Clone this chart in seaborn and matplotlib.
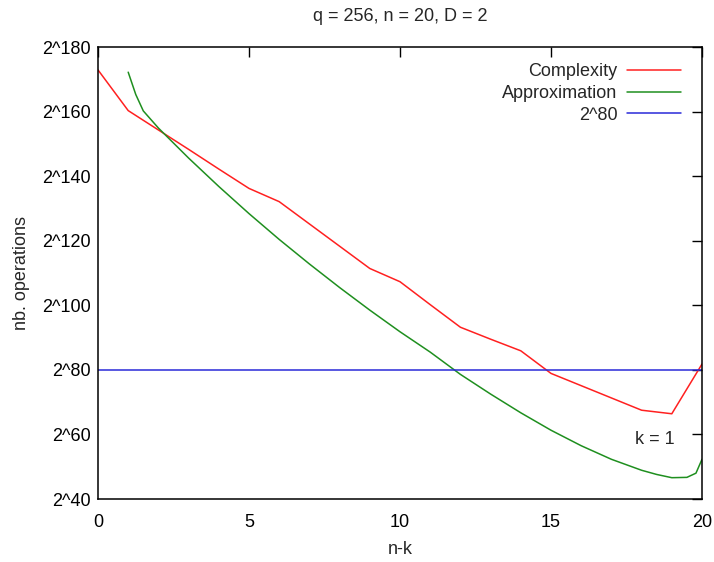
import matplotlib
matplotlib.use('Agg')
import matplotlib.pyplot as plt
import numpy as np
import seaborn as sns

# log2 of the number of operations
nk = list(range(0, 21))
complexity = [172.9, 160.3, 154.3, 148.3, 142.2, 136.2, 132.1, 125.2, 118.3, 111.4,
              107.3, 100.2, 93.2, 89.5, 85.9, 78.9, 75.1, 71.3, 67.5, 66.4, 81.8]

approx_x = [1.0, 1.25, 1.5, 2, 3, 4, 5, 6, 7, 8, 9, 10, 11, 12, 13, 14, 15, 16, 17,
            18, 18.5, 19, 19.5, 19.8, 20]
approx_y = [172.2, 165.3, 160.2, 154.9, 145.6, 136.8, 128.4, 120.4, 112.8, 105.5,
            98.5, 91.8, 85.5, 78.6, 72.5, 66.7, 61.3, 56.5, 52.3, 48.9, 47.6, 46.6,
            46.7, 48.0, 52.3]

limit_x = [0, 20]
limit_y = [80, 80]

yticks = [40, 60, 80, 100, 120, 140, 160, 180]
ytick_labels = [f'2^{v}' for v in yticks]
xticks = [0, 5, 10, 15, 20]

sns.set_style('white')
plt.rcParams['font.family'] = ['Liberation Sans', 'DejaVu Sans']
fs = 13

fig = plt.figure(figsize=(7.14, 5.62), dpi=100)
ax = fig.add_axes([98 / 714, 1 - 499 / 562, 604 / 714, 452 / 562])

sns.lineplot(x=nk, y=complexity, ax=ax, color='#ff2020', lw=1.1, label='Complexity')
sns.lineplot(x=approx_x, y=approx_y, ax=ax, color='#1f8f1f', lw=1.1, label='Approximation')
sns.lineplot(x=limit_x, y=limit_y, ax=ax, color='#2a2ad8', lw=1.1, label='2^80')

ax.set_xlim(0, 20)
ax.set_ylim(40, 180)
ax.set_xticks(xticks)
ax.set_yticks(yticks)
ax.set_yticklabels(ytick_labels)
ax.tick_params(direction='in', length=7, width=1, top=True, right=True,
               labelsize=fs, colors='black')
ax.tick_params(axis='y', pad=5)
ax.tick_params(axis='x', pad=11)
for s in ax.spines.values():
    s.set_color('black')
    s.set_linewidth(1.1)

ax.set_title('q = 256, n = 20, D = 2', fontsize=fs, pad=19)
ax.set_xlabel('n-k', fontsize=fs, labelpad=7)
ax.set_ylabel('nb. operations', fontsize=fs, labelpad=9)

ax.text(19.1, 58.3, 'k = 1', fontsize=fs, ha='right', va='center')

# gnuplot-like key: text right-aligned, sample line after it
handles, labels = ax.get_legend_handles_labels()
ax.get_legend().remove()
rows = [0.945, 0.897, 0.849]
for h, lab, yy in zip(handles, labels, rows):
    lg = ax.legend([h], [lab], loc='center right', bbox_to_anchor=(0.966, yy),
                   frameon=False, markerfirst=False, fontsize=fs,
                   handlelength=3.0, handletextpad=0.55, borderpad=0,
                   borderaxespad=0)
    ax.add_artist(lg)
ax.legend_ = None

fig.savefig('out.png', dpi=100)
